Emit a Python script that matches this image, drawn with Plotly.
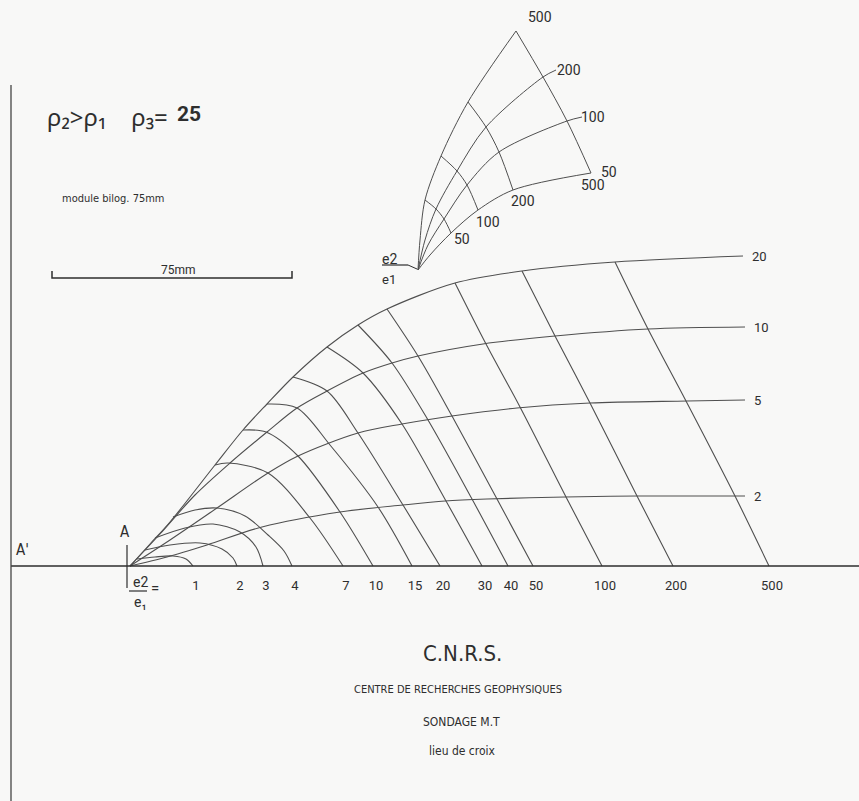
import plotly.graph_objects as go

# ---------------- DATA ----------------
# Main abacus: X = horizontal distance from pole A, Y = height above the A'A axis (scan units)
ratio_labels = ["20", "10", "5", "2"]
ratio20_x = [0, 20, 40, 85, 113, 137, 163, 197, 228, 257, 325, 392, 485, 613]
ratio20_y = [0, 22, 44, 101, 136, 162, 189, 219, 241, 257, 283, 295, 304, 310]
ratio10_x = [0, 30, 65, 100, 137, 167, 197, 233, 262, 288, 353, 425, 518, 615]
ratio10_y = [0, 32, 71, 103, 134, 158, 175, 193, 203, 210, 222, 230, 237, 239]
ratio5_x = [0, 40, 87, 138, 168, 228, 272, 322, 387, 460, 557, 615]
ratio5_y = [0, 26, 58, 93, 110, 133, 142, 150, 158, 163, 165, 166]
ratio2_x = [0, 37, 77, 132, 210, 273, 315, 357, 435, 507, 615]
ratio2_y = [0, 9, 21, 39, 54, 61, 65, 67, 69, 70, 70]

# Arcs, one per value of the bottom scale (they end on the axis)
axis_labels = ["1", "2", "3", "4", "7", "10", "15", "20", "30", "40", "50", "100", "200", "500"]
arc1_x = [7, 25, 43, 56, 63]
arc1_y = [7, 9, 10, 7, 0]
arc2_x = [15, 40, 70, 92, 103, 107]
arc2_y = [16, 21, 23, 17, 8, 0]
arc3_x = [25, 55, 83, 110, 126, 133]
arc3_y = [28, 38, 42, 34, 19, 0]
arc4_x = [43, 65, 87, 115, 138, 154, 162]
arc4_y = [49, 56, 58, 50, 31, 15, 0]
arc7_x = [85, 98, 138, 180, 213]
arc7_y = [101, 103, 93, 48, 0]
arc10_x = [113, 136, 168, 210, 243]
arc10_y = [136, 134, 110, 54, 0]
arc15_x = [137, 167, 200, 248, 282]
arc15_y = [162, 158, 121, 59, 0]
arc20_x = [163, 197, 228, 273, 310]
arc20_y = [189, 175, 133, 61, 0]
arc30_x = [197, 233, 272, 316, 352]
arc30_y = [219, 193, 142, 65, 0]
arc40_x = [228, 262, 298, 342, 378]
arc40_y = [241, 203, 146, 67, 0]
arc50_x = [257, 288, 322, 367, 403]
arc50_y = [257, 210, 150, 67, 0]
arc100_x = [325, 356, 390, 436, 472]
arc100_y = [283, 222, 159, 69, 0]
arc200_x = [392, 425, 460, 507, 543]
arc200_y = [295, 230, 163, 70, 0]
arc500_x = [485, 518, 556, 605, 639]
arc500_y = [304, 237, 165, 70, 0]

# Inset fan (upper part)
fan_ray_labels = ["500", "200", "100", "50"]
ray500_x = [288, 290, 295, 311, 338, 386]
ray500_y = [296, 326, 366, 410, 464, 535]
ray200_x = [288, 295, 306, 327, 356, 413, 426]
ray200_y = [296, 326, 357, 395, 439, 489, 496]
ray100_x = [288, 298, 314, 337, 369, 437, 452]
ray100_y = [296, 321, 347, 381, 414, 445, 449]
ray50_x = [288, 300, 321, 348, 383, 461]
ray50_y = [296, 311, 333, 356, 376, 393]
fan_arc_labels = ["50", "100", "200", "500"]
farc50_x = [295, 306, 314, 321]
farc50_y = [366, 357, 347, 333]
farc100_x = [311, 327, 337, 348]
farc100_y = [410, 395, 381, 356]
farc200_x = [338, 356, 369, 383]
farc200_y = [464, 439, 414, 376]
farc500_x = [386, 413, 437, 461]
farc500_y = [535, 489, 445, 393]

# Scale bar (75 mm)
scale_bar_x = [-78, -78, 162, 162]
scale_bar_y = [295, 288, 288, 295]

# ---------------- STYLE ----------------
BG = "#f8f8f7"
LINE = "#4f4f4f"
INK = "#2e2e2e"
ROUND = "Roboto, 'Open Sans', sans-serif"
NARROW = "'Liberation Sans Narrow', 'DejaVu Sans Condensed', 'Roboto Condensed', 'Liberation Sans', sans-serif"

fig = go.Figure()


def add_curve(x, y, width=1.1, color=LINE, shape="spline"):
    fig.add_trace(go.Scatter(x=x, y=y, mode="lines",
                             line=dict(color=color, width=width, shape=shape, smoothing=0.9),
                             hoverinfo="skip", showlegend=False))


ratio_curves = [(ratio20_x, ratio20_y), (ratio10_x, ratio10_y),
                (ratio5_x, ratio5_y), (ratio2_x, ratio2_y)]
arcs = [(arc1_x, arc1_y), (arc2_x, arc2_y), (arc3_x, arc3_y), (arc4_x, arc4_y),
        (arc7_x, arc7_y), (arc10_x, arc10_y), (arc15_x, arc15_y), (arc20_x, arc20_y),
        (arc30_x, arc30_y), (arc40_x, arc40_y), (arc50_x, arc50_y), (arc100_x, arc100_y),
        (arc200_x, arc200_y), (arc500_x, arc500_y)]
fan_rays = [(ray500_x, ray500_y), (ray200_x, ray200_y), (ray100_x, ray100_y), (ray50_x, ray50_y)]
fan_arcs = [(farc50_x, farc50_y), (farc100_x, farc100_y), (farc200_x, farc200_y), (farc500_x, farc500_y)]

for x, y in arcs:
    add_curve(x, y)
for x, y in ratio_curves:
    add_curve(x, y)
for x, y in fan_rays:
    add_curve(x, y, width=1.0)
for x, y in fan_arcs:
    add_curve(x, y, width=1.0)
add_curve(scale_bar_x, scale_bar_y, width=1.5, color=INK, shape="linear")

annotations = []
# labels at the right end of the ratio curves
for lab, (x, y) in zip(ratio_labels, ratio_curves):
    annotations.append(dict(x=x[-1], y=y[-1], text=lab, xanchor="left", yanchor="middle",
                            xshift=7, showarrow=False, font=dict(family=ROUND, size=13, color=INK)))
# fan labels
fan_ray_label_pos = [(410, 549), (439, 496), (463, 449), (479, 394)]
for lab, (lx, ly) in zip(fan_ray_labels, fan_ray_label_pos):
    annotations.append(dict(x=lx, y=ly, text=lab, showarrow=False,
                            font=dict(family=ROUND, size=14, color=INK)))
fan_arc_label_pos = [(332, 327), (358, 344), (393, 365), (463, 381)]
for lab, (lx, ly) in zip(fan_arc_labels, fan_arc_label_pos):
    annotations.append(dict(x=lx, y=ly, text=lab, showarrow=False,
                            font=dict(family=ROUND, size=14, color=INK)))


def note(x, y, text, size, family=NARROW, xanchor="center", bold=False):
    annotations.append(dict(x=x, y=y, text=text, showarrow=False, xanchor=xanchor,
                            yanchor="middle",
                            font=dict(family=family, size=size, color=INK,
                                      weight="bold" if bold else "normal")))


note(-85, 450, "ρ₂&gt;ρ₁\u00a0\u00a0\u00a0\u00a0ρ₃=", 24,
     family="'Liberation Sans Narrow', 'Noto Sans', sans-serif", xanchor="left")
note(45, 452, "25", 21, family=ROUND, xanchor="left", bold=True)
note(-17, 368, "module bilog. 75mm", 11)
note(48, 296, "75mm", 12, family=ROUND)
note(-108, 16, "A'", 15)
note(-5, 34, "A", 15)
note(10, -16, "e2", 14, family=ROUND)
note(10, -36, "e₁", 14, family=ROUND)
note(25, -22, "=", 15, family=ROUND)
note(259, 307, "e2", 14, family=ROUND)
note(259, 287, "e1", 13, family=ROUND)
note(332, -87, "C.N.R.S.", 22)
note(328, -123, "CENTRE DE RECHERCHES GEOPHYSIQUES", 11)
note(331, -156, "SONDAGE M.T", 12)
note(332, -185, "lieu de croix", 12)

shapes = [
    dict(type="line", x0=-119, x1=729, y0=0, y1=0, line=dict(color=INK, width=1.7)),
    dict(type="line", x0=-119, x1=-119, y0=481, y1=-235, line=dict(color="#444444", width=1.3)),
    dict(type="line", x0=-3, x1=-3, y0=21, y1=-22, line=dict(color=INK, width=1.2)),
    dict(type="line", x0=-1, x1=17, y0=-25, y1=-25, line=dict(color=INK, width=1.2)),
    dict(type="line", x0=252, x1=278, y0=301, y1=301, line=dict(color=INK, width=1.2)),
    dict(type="line", x0=278, x1=287, y0=301, y1=297, line=dict(color=INK, width=1.0)),
]

fig.update_layout(
    width=859, height=801, autosize=False,
    margin=dict(l=0, r=0, t=0, b=0, pad=0),
    paper_bgcolor=BG, plot_bgcolor=BG, showlegend=False,
    annotations=annotations, shapes=shapes,
    xaxis=dict(range=[-130, 729], showgrid=False, zeroline=False, showline=False,
               ticks="", tickmode="array",
               tickvals=[a[0][-1] for a in arcs], ticktext=axis_labels,
               anchor="free", position=(801 - 566) / 801,
               tickfont=dict(family=ROUND, size=13, color=INK),
               ticklabelstandoff=10, ticklabelshift=3, fixedrange=True),
    yaxis=dict(range=[-235, 566], visible=False, fixedrange=True),
)

fig.write_html("out.html", config={"displayModeBar": False, "staticPlot": True},
               post_script="document.body.style.margin='0px';")
